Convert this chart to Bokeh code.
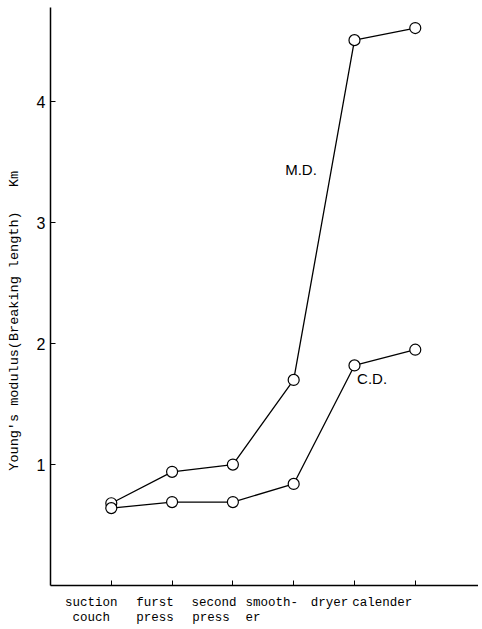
from bokeh.plotting import figure
from bokeh.models import Label, FixedTicker, Range1d, LinearAxis
from bokeh.embed import file_html
from bokeh.resources import INLINE

# ---- data ----
stages = ["suction couch", "furst press", "second press", "smooth-er", "dryer", "calender"]
label_row1 = ["suction", "furst", "second", "smooth-", "dryer", "calender"]
label_row2 = ["couch", "press", "press", "er\u00a0\u00a0\u00a0\u00a0\u00a0", "", ""]
md_values = [0.68, 0.94, 1.00, 1.70, 4.51, 4.61]
cd_values = [0.64, 0.69, 0.69, 0.84, 1.82, 1.95]
y_ticks = [1, 2, 3, 4]

xs = list(range(1, len(stages) + 1))

p = figure(width=478, height=627, output_backend="svg", toolbar_location=None,
           x_range=Range1d(0, 7.04), y_range=Range1d(0, 4.78),
           min_border_left=50, min_border_top=7, min_border_right=0,
           min_border_bottom=39)
p.outline_line_color = None
p.grid.visible = False
p.background_fill_color = "white"

for vals in (md_values, cd_values):
    p.line(xs, vals, line_color="black", line_width=1.3)
    p.scatter(xs, vals, size=11, marker="circle", fill_color="white",
              line_color="black", line_width=1.2)

# y axis
p.yaxis.ticker = FixedTicker(ticks=y_ticks)
p.yaxis.major_tick_in = 5
p.yaxis.major_tick_out = 0
p.yaxis.minor_tick_line_color = None
p.yaxis.axis_line_width = 1.5
p.yaxis.axis_line_color = "black"
p.yaxis.major_tick_line_color = "black"
p.yaxis.major_label_text_font = "Liberation Sans"
p.yaxis.major_label_text_font_size = "16px"
p.yaxis.major_label_text_color = "black"
p.yaxis.major_label_standoff = 5
p.yaxis.axis_label = "Young's modulus(Breaking length)\u00a0\u00a0\u00a0Km" + "\u00a0" * 6
p.yaxis.axis_label_text_font = "Liberation Mono"
p.yaxis.axis_label_text_font_size = "13.5px"
p.yaxis.axis_label_text_font_style = "normal"
p.yaxis.axis_label_text_color = "black"
p.yaxis.axis_label_standoff = 12

# x axis (line + ticks only)
p.xaxis.ticker = FixedTicker(ticks=xs)
p.xaxis.major_label_overrides = {x: "" for x in xs}
p.xaxis.major_label_text_font_size = "0px"
p.xaxis.major_label_standoff = 0
p.xaxis.major_tick_in = 5
p.xaxis.major_tick_out = 0
p.xaxis.minor_tick_line_color = None
p.xaxis.axis_line_width = 1.5
p.xaxis.axis_line_color = "black"
p.xaxis.major_tick_line_color = "black"

# category labels in two typewriter rows, shifted left of their ticks
px_per_unit = 60.8
row1_shift = [-20, -17, -19, -22, -25, -33]
row2_shift = [-20, -17, -22, -22, 0, 0]


def label_axis(texts, shifts, standoff):
    pos = [round(x + s / px_per_unit, 4) for x, s in zip(xs, shifts)]
    ax = LinearAxis(ticker=FixedTicker(ticks=pos),
                    major_label_overrides={q: t for q, t in zip(pos, texts)},
                    axis_line_color=None, major_tick_line_color=None,
                    minor_tick_line_color=None, major_tick_in=0, major_tick_out=0,
                    major_label_standoff=standoff,
                    major_label_text_font="Liberation Mono",
                    major_label_text_font_size="12.5px",
                    major_label_text_color="black")
    p.add_layout(ax, "below")


label_axis(label_row1, row1_shift, 10)
label_axis(label_row2, row2_shift, -2)

# series labels
p.add_layout(Label(x=4.12, y=3.44, text="M.D.", text_font="Liberation Sans",
                   text_font_size="15px", text_align="center",
                   text_baseline="middle", text_color="black"))
p.add_layout(Label(x=5.29, y=1.71, text="C.D.", text_font="Liberation Sans",
                   text_font_size="15px", text_align="center",
                   text_baseline="middle", text_color="black"))

open("out.html", "w").write(file_html(p, INLINE))
